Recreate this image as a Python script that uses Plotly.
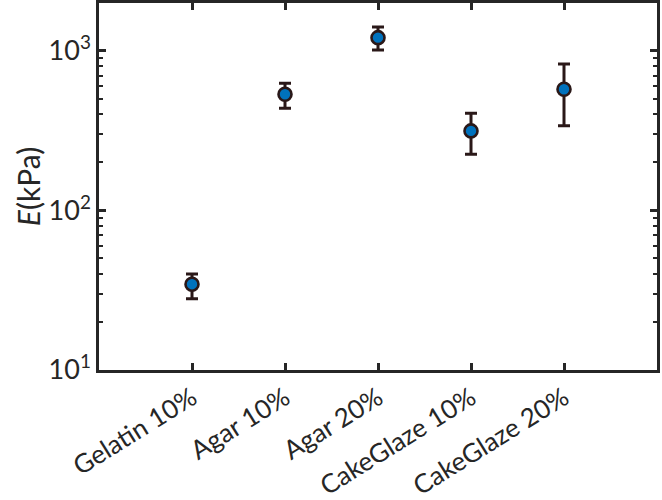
import plotly.graph_objects as go

categories = ["Gelatin 10%", "Agar 10%", "Agar 20%", "CakeGlaze 10%", "CakeGlaze 20%"]
positions = [1, 2, 3, 4, 5]
E_mean = [34.5, 535, 1210, 315, 575]
E_upper = [40, 627, 1410, 406, 826]
E_lower = [28, 437, 1014, 225, 340]
y_range_log = [1, 3.3]
y_tickvals = [10, 100, 1000]
y_ticktext = ["10<sup>1</sup>", "10<sup>2</sup>", "10<sup>3</sup>"]

err_plus = [u - m for u, m in zip(E_upper, E_mean)]
err_minus = [m - l for m, l in zip(E_mean, E_lower)]
minor_vals = [m * d for d in (10, 100, 1000) for m in range(2, 10)]

FONT = "Lato"
AX = "#262626"
DARK = "#2a1818"

fig = go.Figure()
fig.add_trace(go.Scatter(
    x=positions, y=E_mean, mode="markers",
    marker=dict(size=13, color="#0072BD", line=dict(width=2.6, color=DARK)),
    error_y=dict(type="data", array=err_plus, arrayminus=err_minus,
                 color=DARK, thickness=3, width=6),
    showlegend=False,
))
fig.add_trace(go.Scatter(x=[positions[0]], y=[E_mean[0]], yaxis="y2", mode="markers",
                         marker=dict(opacity=0), showlegend=False, hoverinfo="skip"))

fig.update_layout(
    width=662, height=500,
    margin=dict(l=99, r=5, t=3, b=130),
    paper_bgcolor="white", plot_bgcolor="white",
    font=dict(family=FONT, color=AX),
    xaxis=dict(
        range=[0, 6], tickmode="array", tickvals=positions, ticktext=categories,
        tickangle=-32, tickfont=dict(size=26, family=FONT, color=AX),
        showline=True, linewidth=2.5, linecolor=AX, mirror="ticks",
        ticks="inside", ticklen=7, tickwidth=2.5, tickcolor=AX,
        showgrid=False, zeroline=False, automargin=False,
    ),
    yaxis=dict(
        type="log", range=y_range_log, tickmode="array", tickvals=y_tickvals, ticktext=y_ticktext,
        tickfont=dict(size=27, family=FONT, color=AX),
        showline=True, linewidth=2.5, linecolor=AX, mirror="ticks",
        ticks="inside", ticklen=7, tickwidth=2.5, tickcolor=AX,
        showgrid=False, zeroline=False, automargin=False,
        title=dict(text="<i>E</i>(kPa)", font=dict(size=30, family=FONT, color=AX), standoff=0),
    ),
    yaxis2=dict(
        type="log", range=y_range_log, overlaying="y", side="left", anchor="x",
        tickmode="array", tickvals=minor_vals, showticklabels=False,
        showline=True, linewidth=2.5, linecolor=AX, mirror="ticks",
        ticks="inside", ticklen=4.5, tickwidth=2, tickcolor=AX,
        showgrid=False, zeroline=False, automargin=False,
    ),
)

fig.write_html("out.html")
